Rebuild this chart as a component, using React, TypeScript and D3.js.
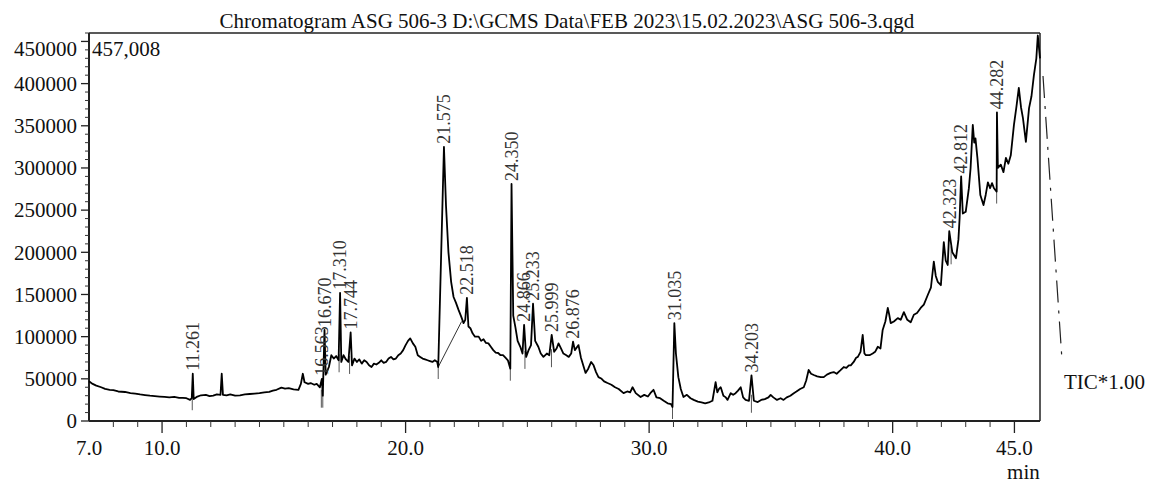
import React from "react";
import * as d3 from "d3";

const titleText = "Chromatogram ASG 506-3 D:\\GCMS Data\\FEB 2023\\15.02.2023\\ASG 506-3.qgd";
const maxLabel = "457,008";
const ticLabel = "TIC*1.00";
const xUnit = "min";

// retention time (min)
const times = [
  7.0, 7.15, 7.3, 7.5, 7.66, 7.85, 8.0, 8.2, 8.48, 8.7, 8.9, 9.1, 9.3, 9.5, 9.7, 9.9, 10.1, 10.3, 10.5, 10.7, 10.85, 11.0, 11.15, 11.22, 11.261, 11.3,
  11.45, 11.6, 11.8, 11.95, 12.1, 12.25, 12.4, 12.45, 12.5, 12.65, 12.8, 13.0, 13.2, 13.4, 13.6, 13.8, 14.0, 14.2, 14.4, 14.55, 14.7, 14.9, 15.05,
  15.2, 15.4, 15.6, 15.7, 15.78, 15.85, 16.0, 16.1, 16.25, 16.35, 16.48, 16.563, 16.6, 16.67, 16.72, 16.85, 16.95, 17.05, 17.15, 17.25, 17.31,
  17.36, 17.45, 17.55, 17.65, 17.744, 17.8, 17.9, 18.0, 18.1, 18.2, 18.3, 18.4, 18.5, 18.6, 18.7, 18.8, 18.9, 19.0, 19.1, 19.2, 19.3, 19.4, 19.5,
  19.6, 19.7, 19.8, 19.9, 20.0, 20.1, 20.19, 20.3, 20.4, 20.5, 20.6, 20.7, 20.8, 20.9, 21.0, 21.1, 21.2, 21.3, 21.34, 21.575, 21.66, 21.76,
  21.87, 21.97, 22.07, 22.17, 22.28, 22.38, 22.45, 22.518, 22.58, 22.66, 22.75, 22.85, 23.0, 23.1, 23.2, 23.3, 23.4, 23.5, 23.6, 23.7, 23.8,
  23.9, 24.0, 24.1, 24.2, 24.3, 24.35, 24.42, 24.51, 24.6, 24.71, 24.8, 24.866, 24.95, 25.05, 25.15, 25.233, 25.32, 25.45, 25.55, 25.66, 25.8,
  25.9, 25.999, 26.1, 26.2, 26.28, 26.38, 26.48, 26.6, 26.7, 26.8, 26.876, 26.95, 27.1, 27.2, 27.39, 27.5, 27.62, 27.72, 27.82, 27.92, 28.05,
  28.15, 28.29, 28.45, 28.6, 28.75, 28.95, 29.1, 29.22, 29.32, 29.45, 29.65, 29.8, 29.95, 30.05, 30.18, 30.3, 30.45, 30.6, 30.76, 30.9, 30.96,
  31.035, 31.1, 31.2, 31.3, 31.41, 31.55, 31.7, 31.83, 32.0, 32.15, 32.3, 32.45, 32.6, 32.73, 32.8, 32.87, 32.94, 33.05, 33.15, 33.22, 33.35,
  33.45, 33.55, 33.65, 33.76, 33.86, 33.96, 34.1, 34.203, 34.3, 34.46, 34.6, 34.75, 34.9, 34.99, 35.1, 35.25, 35.4, 35.52, 35.65, 35.8, 35.94,
  36.05, 36.2, 36.35, 36.45, 36.55, 36.65, 36.76, 36.9, 37.05, 37.17, 37.3, 37.45, 37.58, 37.7, 37.85, 37.99, 38.1, 38.2, 38.28, 38.4, 38.5,
  38.57, 38.68, 38.77, 38.84, 38.9, 39.05, 39.18, 39.28, 39.39, 39.5, 39.59, 39.7, 39.8, 39.86, 39.92, 40.05, 40.21, 40.33, 40.46, 40.6, 40.74,
  40.87, 41.0, 41.15, 41.28, 41.45, 41.57, 41.69, 41.77, 41.85, 41.98, 42.1, 42.18, 42.26, 42.323, 42.45, 42.6, 42.7, 42.75, 42.812, 42.88,
  43.0, 43.13, 43.2, 43.29, 43.35, 43.4, 43.48, 43.6, 43.73, 43.82, 43.91, 44.0, 44.08, 44.16, 44.27, 44.282, 44.32, 44.44, 44.55, 44.65, 44.75,
  44.85, 44.98, 45.08, 45.18, 45.27, 45.35, 45.47, 45.6, 45.7, 45.8, 45.9, 45.96, 46.05,
];

// intensity (counts)
const intensities = [
  47000, 44000, 42000, 40000, 38000, 37000, 36500, 35000, 34400, 33000, 32500, 31500, 30800, 30000, 29500, 29000, 28500, 28000, 28500, 27500, 27300, 27000, 25000, 27000, 56000, 26000,
  29000, 30500, 31000, 29500, 30000, 31500, 31000, 56000, 31000, 30500, 31500, 30000, 30500, 31500, 32000, 32500, 33000, 34000, 34500, 36000, 37000, 39500, 38500,
  39000, 37500, 37000, 44000, 56000, 46000, 44000, 45000, 43000, 44000, 40000, 50000, 30000, 108000, 55000, 64000, 78000, 74000, 77000, 72000, 152000,
  70000, 78000, 73000, 70000, 105000, 66000, 74000, 70000, 73000, 68000, 72000, 70000, 66000, 64000, 68000, 67000, 69000, 72000, 69000, 70000, 74000, 76000, 73000,
  74000, 78000, 80000, 84000, 90000, 95000, 98000, 92000, 88000, 78000, 76000, 74000, 73000, 72000, 71000, 70000, 72000, 70000, 64000, 325000, 255000, 200000,
  165000, 147000, 140000, 132000, 124000, 116000, 120000, 146000, 112000, 110000, 104000, 100000, 100000, 95000, 97000, 92500, 92000, 88000, 84000, 81000, 80600,
  78000, 78000, 75000, 72000, 62000, 281000, 125000, 111000, 95000, 88000, 80000, 114000, 76000, 84000, 90000, 139000, 95000, 88000, 80000, 76000, 80000,
  78000, 102000, 82000, 86000, 92000, 86000, 80000, 78000, 76000, 80000, 94000, 84000, 90000, 75000, 57000, 62000, 70000, 66000, 58000, 52000, 50000,
  47000, 45000, 43000, 40000, 38000, 33000, 35000, 34000, 40000, 33000, 28500, 31000, 29000, 33000, 37000, 28000, 27000, 24000, 21000, 20000, 16600,
  116000, 80000, 52000, 38000, 28500, 31000, 27000, 25000, 23000, 22000, 21000, 22000, 24000, 46000, 34000, 38000, 40000, 30000, 28000, 25000, 33000,
  31000, 33000, 36000, 40000, 28000, 25000, 24000, 54000, 24000, 22500, 25000, 26000, 28000, 31000, 28000, 25000, 27000, 25000, 28000, 30000, 33000,
  35000, 38000, 40000, 48000, 60500, 56000, 54500, 53000, 52000, 52000, 55000, 57000, 58000, 56000, 60000, 64000, 63000, 66000, 66000, 70000, 75000,
  76000, 82000, 102000, 80000, 78000, 78000, 80000, 82000, 88000, 86000, 108000, 118000, 134000, 126000, 116000, 118000, 122000, 120000, 129000, 120000, 117000,
  126000, 128000, 134000, 138000, 150000, 158000, 189000, 172000, 165000, 161000, 212000, 190000, 185000, 225000, 200000, 193000, 215000, 241000, 290000, 246000,
  248000, 276000, 300000, 351000, 330000, 335000, 312000, 268000, 256000, 268000, 283000, 276000, 282000, 276000, 272000, 366000, 300000, 304000, 295000, 312000, 305000,
  315000, 351000, 372000, 395000, 372000, 359000, 331000, 371000, 385000, 410000, 430000, 457008, 430000,
];

// labelled peaks
const peakTimes = [11.261, 16.563, 16.67, 17.31, 17.744, 21.575, 22.518, 24.35, 24.866, 25.233, 25.999, 26.876, 31.035, 34.203, 42.323, 42.812, 44.282];
const peakHeights = [56000, 50000, 108000, 152000, 105000, 325000, 146000, 281000, 114000, 139000, 102000, 94000, 116000, 54000, 225000, 290000, 366000];
const peakLabels = ["11.261", "16.563", "16.670", "17.310", "17.744", "21.575", "22.518", "24.350", "24.866", "25.233", "25.999", "26.876", "31.035", "34.203", "42.323", "42.812", "44.282"];

// integration start markers
const markerTimes = [11.24, 16.54, 16.6, 17.27, 17.7, 21.34, 24.3, 24.9, 25.99, 30.96, 34.2, 42.4, 44.27];
const markerLevels = [27000, 30000, 30000, 72000, 70000, 64000, 62000, 76000, 78000, 16600, 24000, 200000, 272000];

// baseline drawn under the 21.575 peak
const baselineTimes = [21.34, 22.3];
const baselineLevels = [64000, 118000];

const yTickValues = [0, 50000, 100000, 150000, 200000, 250000, 300000, 350000, 400000, 450000];
const xLabelValues = [7, 10, 20, 30, 40, 45];
const xMajorTicks = [10, 20, 30, 40, 45];

const W = 1149;
const H = 483;
const L = 89, R = 1040, T = 33, B = 421;
const FONT = "'Liberation Serif', 'Times New Roman', serif";

export default function App() {
  const x = d3.scaleLinear().domain([7, 46.05]).range([L, R]);
  const y = d3.scaleLinear().domain([0, 460000]).range([B, T]);

  const pts = times.map((t, i) => [t, intensities[i]] as [number, number]);
  const line = d3.line<[number, number]>().x((d) => x(d[0])).y((d) => y(d[1]));
  const traceD = line(pts) || "";
  const baseD = line(baselineTimes.map((t, i) => [t, baselineLevels[i]] as [number, number])) || "";

  const minorY = d3.range(0, 460001, 10000).filter((v) => v % 50000 !== 0);
  const minorX = d3.range(8, 46, 1).filter((v) => !xMajorTicks.includes(v));

  return (
    <svg width={W} height={H} style={{ position: "absolute", left: 0, top: 0, background: "#fff" }} fontFamily={FONT}>
      <rect x={0} y={0} width={W} height={H} fill="#fff" />
      <text x={567} y={28} textAnchor="middle" fontSize={21} fill="#111">{titleText}</text>

      {/* frame */}
      <line x1={L} x2={R} y1={T} y2={T} stroke="#222" strokeWidth={1.5} />
      <line x1={R} x2={R} y1={T} y2={B} stroke="#222" strokeWidth={1.5} />
      <line x1={L} x2={L} y1={T} y2={B} stroke="#222" strokeWidth={2} />
      <line x1={L} x2={R} y1={B} y2={B} stroke="#222" strokeWidth={2} />

      {/* y axis */}
      {yTickValues.map((v) => (
        <g key={"yt" + v}>
          <line x1={L - 8} x2={L} y1={y(v)} y2={y(v)} stroke="#222" strokeWidth={1.3} />
          <text x={L - 12} y={Math.max(y(v), T + 16)} dy="0.35em" textAnchor="end" fontSize={21} fill="#111">{v}</text>
        </g>
      ))}
      {minorY.map((v) => (
        <line key={"ym" + v} x1={L - 4} x2={L} y1={y(v)} y2={y(v)} stroke="#333" strokeWidth={1} />
      ))}

      {/* x axis */}
      {xMajorTicks.map((v) => (
        <line key={"xt" + v} x1={x(v)} x2={x(v)} y1={B} y2={B + 12} stroke="#222" strokeWidth={1.3} />
      ))}
      {minorX.map((v) => (
        <line key={"xm" + v} x1={x(v)} x2={x(v)} y1={B} y2={B + 6} stroke="#333" strokeWidth={1} />
      ))}
      {xLabelValues.map((v) => (
        <text key={"xl" + v} x={x(v)} y={455} textAnchor="middle" fontSize={21} fill="#111">{v.toFixed(1)}</text>
      ))}
      <text x={x(45) + 9} y={479} textAnchor="middle" fontSize={21} fill="#111">{xUnit}</text>

      <text x={L + 3} y={56} fontSize={21} fill="#111">{maxLabel}</text>

      {/* markers */}
      {markerTimes.map((t, i) => (
        <line key={"mk" + i} x1={x(t)} x2={x(t)} y1={y(markerLevels[i]) - 6} y2={y(markerLevels[i]) + 12} stroke="#444" strokeWidth={0.9} />
      ))}
      <path d={baseD} fill="none" stroke="#333" strokeWidth={1} />

      {/* trace */}
      <path d={traceD} fill="none" stroke="#000" strokeWidth={1.8} strokeLinejoin="round" />

      {/* peak labels */}
      {peakTimes.map((t, i) => (
        <text key={"pl" + i} transform={`translate(${x(t)},${y(peakHeights[i]) - 3}) rotate(-90)`} dy="0.35em" fontSize={18} fill="#333">{peakLabels[i]}</text>
      ))}

      {/* TIC dash line */}
      <line x1={R + 3} y1={76} x2={R + 22} y2={360} stroke="#222" strokeWidth={1.2} strokeDasharray="22,8,3,8" />
      <text x={R + 24} y={389} fontSize={21} fill="#111">{ticLabel}</text>
    </svg>
  );
}
